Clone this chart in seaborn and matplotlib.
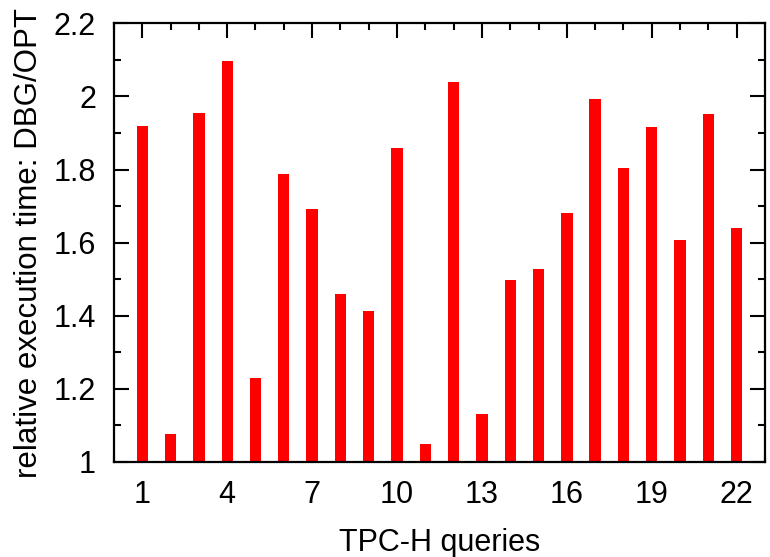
import matplotlib
matplotlib.use("Agg")
import matplotlib.pyplot as plt
import seaborn as sns
import pandas as pd
from matplotlib.ticker import MultipleLocator

queries = list(range(1, 23))
ratios = [1.919, 1.076, 1.955, 2.097, 1.230, 1.788, 1.693, 1.459, 1.413, 1.858, 1.049,
          2.039, 1.131, 1.498, 1.529, 1.680, 1.993, 1.803, 1.916, 1.606, 1.951, 1.640]
xticks = [1, 4, 7, 10, 13, 16, 19, 22]
yticks = [1, 1.2, 1.4, 1.6, 1.8, 2, 2.2]
ytick_labels = ["1", "1.2", "1.4", "1.6", "1.8", "2", "2.2"]

sns.set_style("ticks")
plt.rcParams['font.family'] = ['Liberation Sans', 'DejaVu Sans']
plt.rcParams.update({"text.color": "black", "axes.labelcolor": "black",
                     "xtick.color": "black", "ytick.color": "black",
                     "axes.edgecolor": "black"})

df = pd.DataFrame({"query": queries, "ratio": ratios})

fig = plt.figure(figsize=(7.7, 5.57), dpi=100)
ax = fig.add_axes([0.148, 0.171, 0.8455, 0.787])

sns.barplot(data=df, x="query", y="ratio", native_scale=True, width=0.4,
            color="#ff0000", saturation=1, linewidth=0, ax=ax)

ax.set_xlim(0, 23)
ax.set_ylim(1, 2.2)
ax.set_xticks(xticks)
ax.set_xticklabels([str(t) for t in xticks])
ax.xaxis.set_minor_locator(MultipleLocator(1))
ax.set_yticks(yticks)
ax.set_yticklabels(ytick_labels)
ax.yaxis.set_minor_locator(MultipleLocator(0.1))

for s in ax.spines.values():
    s.set_visible(True)
    s.set_linewidth(1.6)
    s.set_color("black")

ax.tick_params(which="both", direction="in", top=True, right=True, color="black", width=1.5)
ax.tick_params(which="major", length=10.5, labelsize=22)
ax.tick_params(which="minor", length=5)
ax.tick_params(axis="y", which="major", pad=13)
ax.tick_params(axis="x", which="major", pad=13)

ax.set_xlabel("TPC-H queries", fontsize=22, labelpad=13)
ax.set_ylabel("relative execution time: DBG/OPT", fontsize=22.5, labelpad=7)

fig.savefig("out.png", dpi=100)
